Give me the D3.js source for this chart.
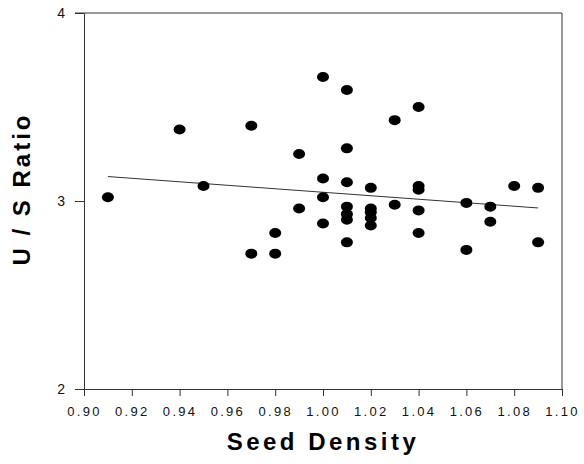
<!DOCTYPE html>
<html>
<head>
<meta charset="utf-8">
<script src="https://cdn.jsdelivr.net/npm/d3@7"></script>
<style>
    body { margin: 0; background: #fff; }
    text { font-family: "Liberation Sans", Arial, sans-serif; }
</style>
</head>
<body>
<div id="scatter"></div>
<script>
// seed density (x) and U/S ratio (y)
let density = [
    0.91, 0.94, 0.95, 0.97, 0.97, 0.98, 0.98, 0.99, 0.99,
    1.00, 1.00, 1.00, 1.00,
    1.01, 1.01, 1.01, 1.01, 1.01, 1.01, 1.01,
    1.02, 1.02, 1.02, 1.02, 1.02,
    1.03, 1.03,
    1.04, 1.04, 1.04, 1.04, 1.04,
    1.06, 1.06, 1.07, 1.07, 1.08, 1.09, 1.09
];
let ratio = [
    3.02, 3.38, 3.08, 3.40, 2.72, 2.83, 2.72, 3.25, 2.96,
    3.66, 3.12, 3.02, 2.88,
    3.59, 3.28, 3.10, 2.97, 2.93, 2.90, 2.78,
    3.07, 2.96, 2.94, 2.91, 2.87,
    3.43, 2.98,
    3.50, 3.08, 3.06, 2.95, 2.83,
    2.99, 2.74, 2.97, 2.89, 3.08, 3.07, 2.78
];

// regression line end points
let trendX = [0.91, 1.09];
let trendY = [3.13, 2.963];

let xTicks = [0.90, 0.92, 0.94, 0.96, 0.98, 1.00, 1.02, 1.04, 1.06, 1.08, 1.10];
let yTicks = [2, 3, 4];

let svgWidth = 584;
let svgHeight = 464;

let margin = { top: 13, right: 22, bottom: 75, left: 84 };
let width = svgWidth - margin.left - margin.right;
let height = svgHeight - margin.top - margin.bottom;

let svg = d3.select("#scatter")
    .append("svg")
    .attr("width", svgWidth)
    .attr("height", svgHeight);

let chartGroup = svg.append("g")
    .attr("transform", `translate(${margin.left}, ${margin.top})`);

let xScale = d3.scaleLinear().domain([0.90, 1.10]).range([0, width]);
let yScale = d3.scaleLinear().domain([2, 4]).range([height, 0]);

let bottomAxis = d3.axisBottom(xScale)
    .tickValues(xTicks)
    .tickFormat(d3.format(".2f"))
    .tickSizeInner(7)
    .tickSizeOuter(0)
    .tickPadding(11);

let leftAxis = d3.axisLeft(yScale)
    .tickValues(yTicks)
    .tickFormat(d3.format("d"))
    .tickSizeInner(9)
    .tickSizeOuter(0)
    .tickPadding(10);

let xAxisG = chartGroup.append("g")
    .attr("transform", `translate(0, ${height})`)
    .call(bottomAxis);

let yAxisG = chartGroup.append("g")
    .call(leftAxis);

[xAxisG, yAxisG].forEach(function (g) {
    g.selectAll("path, line").attr("stroke", "#333").attr("stroke-width", 1);
    g.selectAll("text")
        .attr("fill", "#111")
        .attr("font-size", "13px")
        .style("letter-spacing", "2.3px");
});

yAxisG.selectAll("text").attr("font-size", "14px").style("letter-spacing", "0px");

// top and right frame
chartGroup.append("line")
    .attr("x1", -9).attr("x2", width)
    .attr("y1", yScale(4)).attr("y2", yScale(4))
    .attr("stroke", "#333");
chartGroup.append("line")
    .attr("x1", width).attr("x2", width)
    .attr("y1", 0).attr("y2", height)
    .attr("stroke", "#333");

// trend line
chartGroup.append("line")
    .attr("x1", xScale(trendX[0]))
    .attr("y1", yScale(trendY[0]))
    .attr("x2", xScale(trendX[1]))
    .attr("y2", yScale(trendY[1]))
    .attr("stroke", "#333")
    .attr("stroke-width", 1);

chartGroup.selectAll("ellipse")
    .data(density)
    .enter()
    .append("ellipse")
    .attr("cx", d => xScale(d))
    .attr("cy", (d, i) => yScale(ratio[i]))
    .attr("rx", 6)
    .attr("ry", 5)
    .attr("fill", "#000");

// axis titles
svg.append("text")
    .attr("transform", "translate(30, 189) rotate(-90)")
    .attr("text-anchor", "middle")
    .attr("font-size", "24px")
    .attr("font-weight", "bold")
    .style("letter-spacing", "3px")
    .text("U / S Ratio");

svg.append("text")
    .attr("x", margin.left + width / 2)
    .attr("y", 450)
    .attr("text-anchor", "middle")
    .attr("font-size", "24px")
    .attr("font-weight", "bold")
    .style("letter-spacing", "3.5px")
    .text("Seed Density");
</script>
</body>
</html>
